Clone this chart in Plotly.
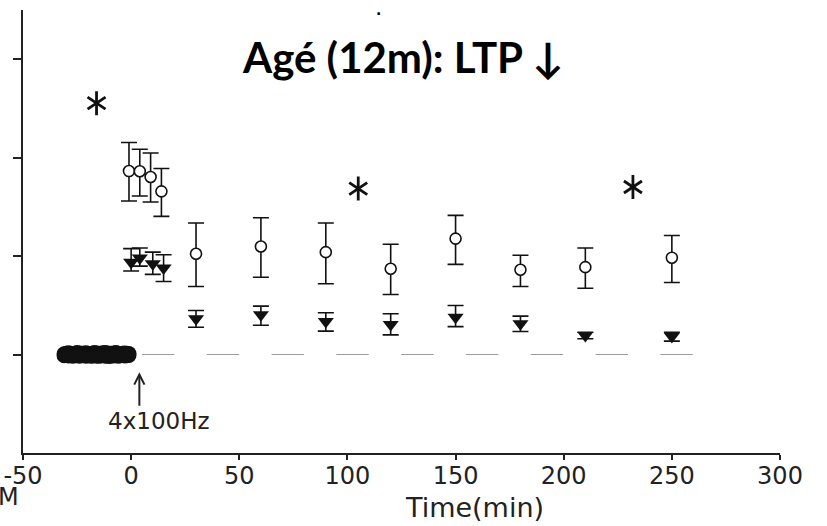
import plotly.graph_objects as go

# ---- data ----
# young / control group (open circles): mean and error-bar ends
ctrl_t = [-1, 4, 9, 14, 30, 60, 90, 120, 150, 180, 210, 250]
ctrl = [193.2, 193.1, 190.2, 182.9, 151.2, 154.9, 152.0, 143.6, 158.9, 143.1, 144.4, 149.2]
ctrl_hi = [207.7, 204.3, 202.4, 194.5, 166.8, 169.5, 166.8, 156.0, 170.7, 150.4, 154.1, 160.5]
ctrl_lo = [178.0, 180.5, 177.5, 170.2, 134.6, 139.3, 136.0, 130.5, 145.8, 134.6, 133.7, 136.6]

# aged group (filled down-triangles)
aged_t = [0, 4, 10, 15, 30, 60, 90, 120, 150, 180, 210, 250]
aged = [146.9, 149.0, 146.1, 143.9, 118.2, 120.2, 116.8, 115.3, 119.0, 115.6, 109.7, 109.2]
aged_hi = [153.8, 154.1, 152.0, 150.7, 122.4, 124.6, 121.2, 120.7, 124.9, 119.5, 111.3, 111.3]
aged_lo = [142.4, 144.9, 140.7, 137.1, 113.9, 114.9, 111.9, 110.0, 114.2, 111.7, 108.0, 106.8]

# baseline recording (dense, overlapping points)
base_t = [-31, -30, -29, -28, -27, -26, -25, -24, -23, -22, -21, -20, -19, -18, -17, -16,
          -15, -14, -13, -12, -11, -10, -9, -8, -7, -6, -5, -4, -3, -2, -1]
base_ctrl = [100.4, 100.6, 100.9, 100.7, 100.5, 100.6, 101.0, 100.8, 100.6, 100.7, 100.9, 100.6,
             100.5, 100.7, 101.1, 100.8, 100.6, 100.7, 100.9, 101.1, 100.8, 100.6, 100.7, 100.8,
             101.0, 100.7, 100.5, 100.6, 100.8, 100.6, 100.5]
base_aged = [99.4, 99.5, 99.3, 99.6, 99.2, 99.4, 99.5, 99.2, 99.4, 99.5, 99.2, 99.4,
             99.3, 99.2, 99.5, 99.3, 99.1, 99.4, 99.5, 99.2, 99.3, 99.0, 99.4, 99.3,
             99.5, 99.2, 99.4, 99.5, 99.3, 99.4, 99.5]

# significance asterisks
star_t = [-16, 105, 232]
star_v = [227.7, 184.3, 185.1]

# 100 % reference line
ref_start, ref_end, ref_level = 5, 260, 100

x_ticks = [-50, 0, 50, 100, 150, 200, 250, 300]
y_ticks = [100, 150, 200, 250]

BLACK = "#111111"
AX = "#222222"
fig = go.Figure()

fig.add_trace(go.Scatter(
    x=[ref_start, ref_end], y=[ref_level, ref_level], mode="lines",
    line=dict(color="#9c9c9c", width=1.1, dash="32.4px,32.4px"),
    hoverinfo="skip", showlegend=False))

for vals in (base_ctrl, base_aged):
    fig.add_trace(go.Scatter(
        x=base_t, y=vals, mode="markers",
        marker=dict(symbol="circle", size=15, color=BLACK, line=dict(width=0)),
        showlegend=False))

fig.add_trace(go.Scatter(
    x=ctrl_t, y=ctrl, mode="markers",
    marker=dict(symbol="circle", size=11, color="white", line=dict(color=BLACK, width=1.6)),
    error_y=dict(type="data", symmetric=False,
                 array=[h - v for h, v in zip(ctrl_hi, ctrl)],
                 arrayminus=[v - l for v, l in zip(ctrl, ctrl_lo)],
                 color=BLACK, thickness=1.6, width=8),
    showlegend=False))

fig.add_trace(go.Scatter(
    x=aged_t, y=aged, mode="markers",
    marker=dict(symbol="triangle-down", size=14, color=BLACK, line=dict(width=0)),
    error_y=dict(type="data", symmetric=False,
                 array=[h - v for h, v in zip(aged_hi, aged)],
                 arrayminus=[v - l for v, l in zip(aged, aged_lo)],
                 color=BLACK, thickness=1.6, width=8),
    showlegend=False))

for sym in ["y-up-open", "y-down-open"]:
    fig.add_trace(go.Scatter(
        x=star_t, y=star_v, mode="markers",
        marker=dict(symbol=sym, size=15, color=BLACK, line=dict(color=BLACK, width=2.8)),
        showlegend=False, hoverinfo="skip"))

L, R, T, B = 23, 47, 10, 73
PW, PH = 827 - L - R, 526 - T - B


def px(xp):
    return (xp - L) / PW


def py(yp):
    return (526 - B - yp) / PH


fig.update_layout(
    width=827, height=526,
    margin=dict(l=L, r=R, t=T, b=B, autoexpand=False),
    paper_bgcolor="white", plot_bgcolor="white",
    font=dict(family="DejaVu Sans", color=BLACK),
    xaxis=dict(range=[-50, 300], tickvals=x_ticks, ticktext=[str(v) for v in x_ticks],
               showline=True, linecolor=AX, linewidth=1.8, automargin=False,
               ticks="outside", ticklen=5, tickwidth=1.5, tickcolor=AX,
               ticklabelstandoff=-5,
               showgrid=False, zeroline=False,
               tickfont=dict(family="DejaVu Sans", size=24, color=AX)),
    yaxis=dict(range=[50, 275], tickvals=y_ticks, showticklabels=False, automargin=False,
               showline=True, linecolor=AX, linewidth=1.8,
               ticks="outside", ticklen=8, tickwidth=1.5, tickcolor=AX,
               showgrid=False, zeroline=False),
    annotations=[
        dict(text="<b>Agé (12m): LTP ↓</b>", xref="paper", yref="paper", x=px(403), y=py(57),
             xanchor="center", yanchor="middle", showarrow=False,
             font=dict(family="Lato", size=42, color="black")),
        dict(text="Time(min)", xref="paper", yref="paper", x=px(474), y=py(508),
             xanchor="center", yanchor="middle", showarrow=False,
             font=dict(family="DejaVu Sans", size=27, color=AX)),
        dict(text="4x100Hz", xref="x", yref="y", x=13, y=66.5, xanchor="center",
             yanchor="middle", showarrow=False,
             font=dict(family="DejaVu Sans", size=23, color=AX)),
        dict(text="", xref="x", yref="y", x=3.8, y=91.0, ax=0, ay=35,
             showarrow=True, arrowhead=5, arrowsize=1.0, arrowwidth=2, arrowcolor=AX),
        dict(text="<b>.</b>", xref="paper", yref="paper", x=px(378), y=py(10),
             xanchor="center", yanchor="middle", showarrow=False,
             font=dict(family="DejaVu Sans", size=14, color="black")),
        dict(text="M", xref="paper", yref="paper", x=px(21), y=py(497),
             xanchor="right", yanchor="middle", showarrow=False,
             font=dict(family="DejaVu Sans", size=24, color=AX)),
    ],
)

fig.write_html("out.html", config={"displayModeBar": False},
               post_script="document.body.style.margin='0';")
